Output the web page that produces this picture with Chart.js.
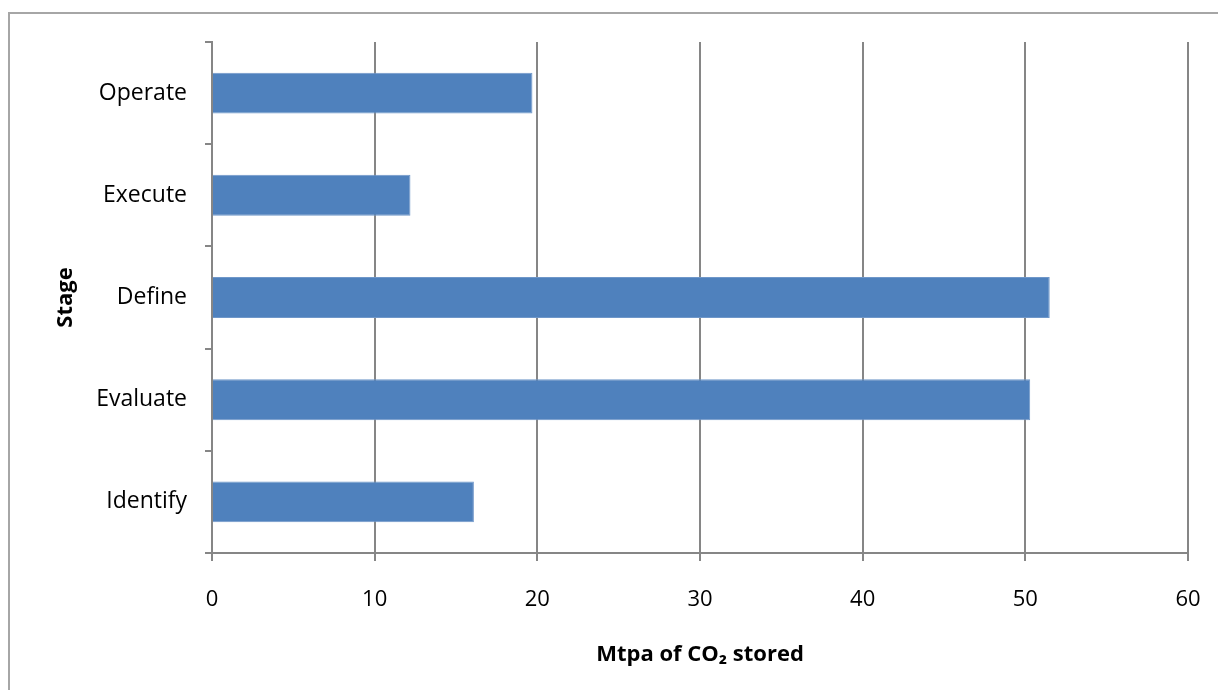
<!DOCTYPE html>
<html>
<head>
<meta charset="utf-8">
<script src="https://cdn.jsdelivr.net/npm/chart.js@4/dist/chart.umd.min.js"></script>
<style>
  html, body { margin: 0; padding: 0; background: #fff; overflow: hidden; }
  #frame {
    position: absolute; left: 8px; top: 12px; width: 1300px; height: 800px;
    border: 2px solid #a6a6a6; box-sizing: border-box;
  }
  #wrap { position: absolute; left: 0; top: 0; width: 1218px; height: 690px; }
</style>
</head>
<body>
<div id="frame"></div>
<div id="wrap"><canvas id="chart" width="1218" height="690"></canvas></div>
<script>
// ── DATA ───────────────────────────────────────────────────────────────
const stages = ['Operate', 'Execute', 'Define', 'Evaluate', 'Identify'];
const mtpaStored = [19.7, 12.2, 51.5, 50.3, 16.1];
const xMin = 0;
const xMax = 60;
const xStep = 10;

const GRID = '#868686';
const BAR = '#4f81bd';
const FONT = '"Open Sans", "DejaVu Sans", sans-serif';

// ── CHART ──────────────────────────────────────────────────────────────
new Chart(document.getElementById('chart'), {
  type: 'bar',
  data: {
    labels: stages,
    datasets: [{
      data: mtpaStored,
      backgroundColor: BAR,
      borderColor: '#6f97c9',
      borderWidth: 1,
      categoryPercentage: 1,
      barPercentage: 0.4,
    }]
  },
  options: {
    indexAxis: 'y',
    responsive: false,
    animation: false,
    layout: { padding: { top: 42, right: 30, left: 0, bottom: 0 } },
    plugins: {
      legend: { display: false },
      tooltip: { enabled: false }
    },
    scales: {
      x: {
        min: xMin,
        max: xMax,
        ticks: {
          stepSize: xStep,
          color: '#000',
          padding: 26,
          font: { family: FONT, size: 22 }
        },
        grid: { color: GRID, lineWidth: 2, tickLength: 8 },
        border: { color: GRID, width: 2 },
        title: {
          display: true,
          text: 'Mtpa of CO\u2082 stored',
          color: '#000',
          font: { family: FONT, size: 22, weight: 'bold' },
          padding: { top: 0, bottom: 22 }
        },
        afterFit: (scale) => {
          scale.height = 137;
          // tick padding would otherwise push the right edge inwards
          scale.paddingLeft = 0;
          scale.paddingRight = 0;
        }
      },
      y: {
        ticks: {
          color: '#000',
          padding: 18,
          font: { family: FONT, size: 23 }
        },
        grid: { drawOnChartArea: false, color: GRID, lineWidth: 2, tickLength: 7 },
        border: { color: GRID, width: 2 },
        title: {
          display: true,
          text: 'Stage',
          color: '#000',
          font: { family: FONT, size: 22, weight: 'bold' },
          padding: { top: 53, bottom: 0 }
        },
        afterFit: (scale) => { scale.width = 212; }
      }
    }
  }
});
</script>
</body>
</html>
